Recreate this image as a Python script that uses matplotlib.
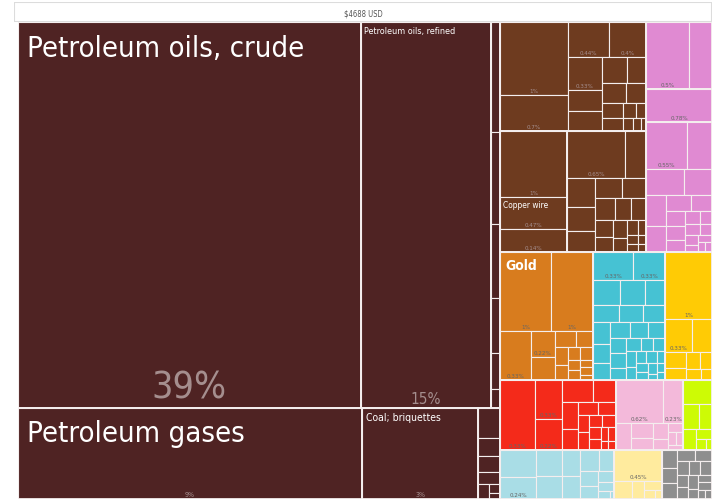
import matplotlib
matplotlib.use('Agg')
from matplotlib import pyplot as plt
from matplotlib.patches import Rectangle

plt.rcParams['font.family'] = ['DejaVu Sans']
plt.rcParams['font.stretch'] = 'condensed'

total_label = '$4688 USD'

# Leaf values: share of the visible chart area (%).
crude = [40.0]
refined = [15.2]
fuel_strip = [0.3, 0.25, 0.2, 0.15, 0.1, 0.05]
gases = [9.5]
coal = [3.2]
fuel_bits = [0.2, 0.12, 0.1, 0.08, 0.05, 0.03, 0.02]

metals_top = [1.50, 0.74, 0.44, 0.40, 0.33, 0.22, 0.20, 0.20, 0.15, 0.14, 0.12,
              0.10, 0.08, 0.06, 0.05, 0.04, 0.03, 0.02]
metals_left = [1.35, 0.66, 0.47]
metals_right = [0.82, 0.30, 0.25, 0.20, 0.18, 0.17, 0.15, 0.13, 0.11, 0.10, 0.09,
                0.08, 0.07, 0.06, 0.05, 0.04, 0.03, 0.03, 0.02, 0.02]
pink_top = [0.88, 0.46]
pink_bar = [0.64]
pink_low = [0.58, 0.36, 0.30, 0.22, 0.18, 0.15, 0.12, 0.10, 0.09, 0.08,
            0.07, 0.06, 0.05, 0.05, 0.04, 0.04, 0.03, 0.03, 0.02, 0.02]
gold = [1.23, 1.0, 0.46, 0.19, 0.17, 0.1, 0.08, 0.07, 0.06, 0.05, 0.05, 0.04,
        0.04, 0.03, 0.03, 0.02]
cyan = [0.34, 0.27, 0.2, 0.18, 0.15, 0.14, 0.13, 0.12, 0.11, 0.1, 0.09, 0.09,
        0.08, 0.08, 0.07, 0.07, 0.06, 0.06, 0.05, 0.05, 0.05, 0.04, 0.04, 0.04,
        0.03, 0.03, 0.03, 0.03, 0.02, 0.02, 0.02]
yellow = [0.95, 0.27, 0.2, 0.1, 0.08, 0.07, 0.06, 0.05, 0.04]
red = [0.74, 0.31, 0.25, 0.2, 0.15, 0.13, 0.1, 0.08, 0.07, 0.06, 0.06, 0.05,
       0.05, 0.04, 0.04, 0.03, 0.03, 0.02, 0.02]
light_pink = [0.62, 0.26, 0.12, 0.1, 0.08, 0.07, 0.05, 0.04, 0.03, 0.03, 0.02]
lime = [0.2, 0.12, 0.1, 0.08, 0.05, 0.03, 0.02]
light_blue = [0.3, 0.24, 0.2, 0.18, 0.15, 0.13, 0.12, 0.1, 0.08, 0.07, 0.05,
              0.04, 0.03, 0.01]
light_yellow = [0.45, 0.1, 0.07, 0.05, 0.03, 0.02]
grey = [0.08, 0.07, 0.07, 0.06, 0.06, 0.05, 0.05, 0.05, 0.04, 0.04, 0.04, 0.03,
        0.03, 0.03, 0.02, 0.02]

groups = {
    'crude': (crude, '#4f2323'), 'refined': (refined, '#4f2323'),
    'fuel_strip': (fuel_strip, '#4f2323'), 'gases': (gases, '#4f2323'),
    'coal': (coal, '#4f2323'), 'fuel_bits': (fuel_bits, '#4f2323'),
    'metals_top': (metals_top, '#6e3b1f'), 'metals_left': (metals_left, '#6e3b1f'),
    'metals_right': (metals_right, '#6e3b1f'),
    'pink_top': (pink_top, '#e08ad2'), 'pink_bar': (pink_bar, '#e08ad2'),
    'pink_low': (pink_low, '#e08ad2'),
    'gold': (gold, '#d87c1e'), 'cyan': (cyan, '#46c2d3'),
    'yellow': (yellow, '#ffcb05'), 'red': (red, '#f42a1a'),
    'light_pink': (light_pink, '#f3b9da'), 'lime': (lime, '#cdfb05'),
    'light_blue': (light_blue, '#a9dde6'), 'light_yellow': (light_yellow, '#ffeb9e'),
    'grey': (grey, '#8e8e8e'),
}
# groups drawn as simple slices instead of squarified
sliced = {'metals_left': 'v', 'pink_top': 'h'}

# nested lists alternate direction: columns -> rows -> groups -> sub-groups
layout = [
    [['crude', 'refined', 'fuel_strip'], ['gases', 'coal', 'fuel_bits']],
    [[['metals_top', ['metals_left', 'metals_right']],
      ['pink_top', 'pink_bar', 'pink_low']],
     ['gold', 'cyan', 'yellow'],
     ['red', 'light_pink', 'lime'],
     ['light_blue', 'light_yellow', 'grey']],
]

# (group, leaf index, text, size in pt)
names = [('crude', 0, 'Petroleum oils, crude', 21),
         ('gases', 0, 'Petroleum gases', 21),
         ('refined', 0, 'Petroleum oils, refined', 6.5),
         ('coal', 0, 'Coal; briquettes', 7.5),
         ('metals_left', 1, 'Copper wire', 6),
         ('gold', 0, 'Gold', 10)]
pcts = [('crude', 0, '39%', 27), ('refined', 0, '15%', 11), ('gases', 0, '9%', 5),
        ('coal', 0, '3%', 5),
        ('metals_top', 0, '1%', 4.5), ('metals_top', 1, '0.7%', 4.5),
        ('metals_top', 2, '0.44%', 4.5), ('metals_top', 3, '0.4%', 4.5),
        ('metals_top', 4, '0.33%', 4.5),
        ('metals_left', 0, '1%', 4.5), ('metals_left', 1, '0.47%', 4.5),
        ('metals_left', 2, '0.14%', 4.5), ('metals_right', 0, '0.65%', 4.5),
        ('pink_top', 0, '0.5%', 4.5), ('pink_bar', 0, '0.78%', 4.5),
        ('pink_low', 0, '0.55%', 4.5), ('gold', 0, '1%', 4.5), ('gold', 1, '1%', 4.5),
        ('gold', 2, '0.33%', 4.5), ('gold', 3, '0.22%', 4.5), ('cyan', 0, '0.33%', 4.5),
        ('cyan', 1, '0.33%', 4.5), ('yellow', 0, '1%', 4.5), ('yellow', 1, '0.33%', 4.5),
        ('red', 0, '0.33%', 4.5), ('red', 1, '0.33%', 4.5), ('red', 2, '0.22%', 4.5),
        ('light_pink', 0, '0.62%', 4.5), ('light_pink', 1, '0.23%', 4.5),
        ('light_blue', 1, '0.24%', 4.5), ('light_yellow', 0, '0.45%', 4.5)]


def worst(row, side):
    s = sum(row)
    return max(side * side * max(row) / (s * s), s * s / (side * side * min(row)))


def squarify(vals, x, y, w, h):
    total = sum(vals)
    areas = [v * w * h / total for v in vals]
    rects = []
    i = 0
    while i < len(areas):
        side = min(w, h)
        row = [areas[i]]
        j = i + 1
        while j < len(areas) and worst(row + [areas[j]], side) <= worst(row, side):
            row.append(areas[j])
            j += 1
        s = sum(row)
        if w >= h:
            cw = s / h
            yy = y
            for a in row:
                rects.append((x, yy, cw, a / cw))
                yy += a / cw
            x += cw
            w -= cw
        else:
            rh = s / w
            xx = x
            for a in row:
                rects.append((xx, y, a / rh, rh))
                xx += a / rh
            y += rh
            h -= rh
        i = j
    return rects


def slice_rects(vals, x, y, w, h, direction):
    total = sum(vals)
    rects = []
    for v in vals:
        if direction == 'h':
            rects.append((x, y, w * v / total, h))
            x += w * v / total
        else:
            rects.append((x, y, w, h * v / total))
            y += h * v / total
    return rects


def node_sum(node):
    if isinstance(node, str):
        return sum(groups[node][0])
    return sum(node_sum(n) for n in node)


W, H = 694, 477
fig = plt.figure(figsize=(7.12, 4.99), dpi=100)
ax = fig.add_axes([18 / 712, 0, W / 712, H / 499])
ax.set_xlim(0, W)
ax.set_ylim(H, 0)
ax.set_axis_off()

head = fig.add_axes([14 / 712, H / 499, 698 / 712, 20 / 499])
head.set_xlim(0, 1)
head.set_ylim(0, 1)
head.set_axis_off()
head.add_patch(Rectangle((0, 0), 1, 1, facecolor='white', edgecolor='#dcdcdc', lw=1.5))
head.text(0.5, 0.42, total_label, ha='center', va='center', fontsize=5.5, color='#555555')

leaf_rects = {}


def draw(node, x, y, w, h, horizontal):
    if isinstance(node, str):
        vals, colour = groups[node]
        if node in sliced:
            rects = slice_rects(vals, x, y, w, h, sliced[node])
        else:
            rects = squarify(vals, x, y, w, h)
        leaf_rects[node] = rects
        for r in rects:
            ax.add_patch(Rectangle(r[:2], r[2], r[3], facecolor=colour,
                                   edgecolor='#f4eeee', lw=0.8))
        ax.add_patch(Rectangle((x, y), w, h, fill=False, edgecolor='#f4eeee', lw=1.3))
        return
    total = node_sum(node)
    for child in node:
        share = node_sum(child) / total
        if horizontal:
            draw(child, x, y, w * share, h, False)
            x += w * share
        else:
            draw(child, x, y, w, h * share, True)
            y += h * share


draw(layout, 0, 0, W, H, True)

for g, i, text, size in names:
    rx, ry, rw, rh = leaf_rects[g][i]
    ax.text(rx + 1 + size * 0.4, ry + 1 + size * 0.55, text, ha='left', va='top',
            fontsize=size, color='white',
            fontweight='bold' if g == 'gold' else 'normal')

dark = {'crude', 'refined', 'gases', 'coal', 'metals_top', 'metals_left',
        'metals_right', 'fuel_strip', 'fuel_bits'}
for g, i, text, size in pcts:
    rx, ry, rw, rh = leaf_rects[g][i]
    c = '#a58e8e' if g in dark else '#666666'
    ax.text(rx + rw / 2, ry + rh - 1, text, ha='center', va='bottom', fontsize=size, color=c)

fig.savefig('out.png', dpi=100, facecolor='white')
